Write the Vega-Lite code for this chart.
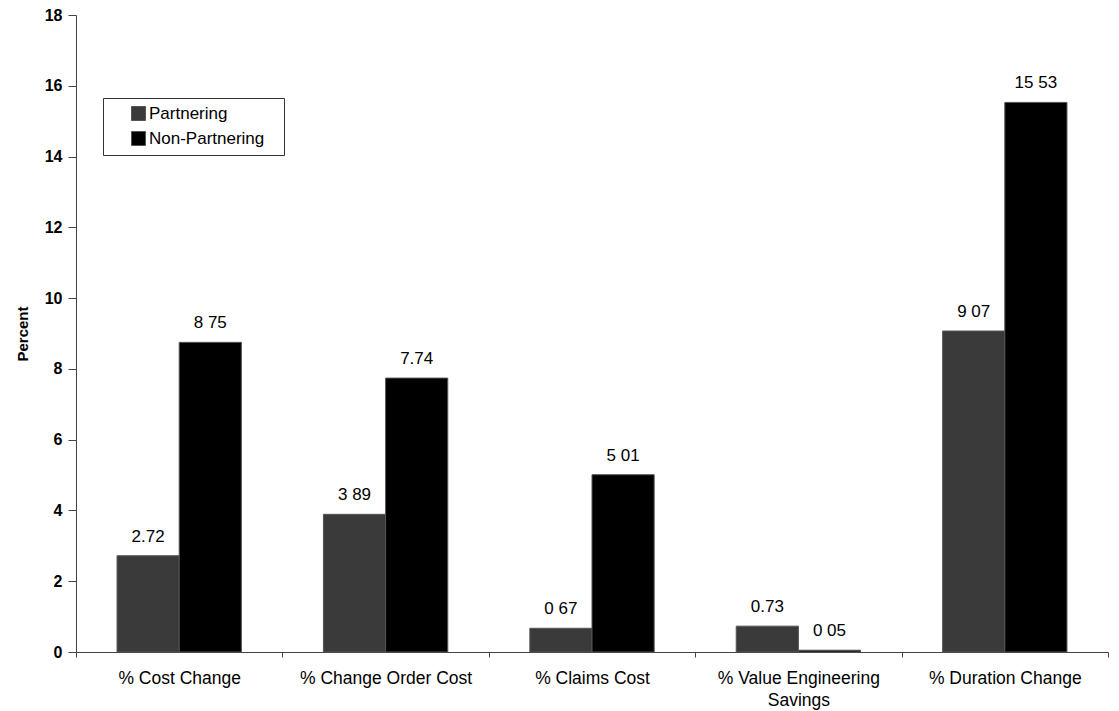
{
  "$schema": "https://vega.github.io/schema/vega-lite/v6.json",
  "width": 1032,
  "height": 637,
  "autosize": "none",
  "padding": {"left": 76, "top": 15, "right": 11, "bottom": 59},
  "background": "white",
  "config": {
    "font": "Liberation Sans",
    "view": {"stroke": null}
  },
  "data": {
    "values": [
      {"category": "% Cost Change", "group": "Partnering", "value": 2.72, "label": "2.72"},
      {"category": "% Cost Change", "group": "Non-Partnering", "value": 8.75, "label": "8 75"},
      {"category": "% Change Order Cost", "group": "Partnering", "value": 3.89, "label": "3 89"},
      {"category": "% Change Order Cost", "group": "Non-Partnering", "value": 7.74, "label": "7.74"},
      {"category": "% Claims Cost", "group": "Partnering", "value": 0.67, "label": "0 67"},
      {"category": "% Claims Cost", "group": "Non-Partnering", "value": 5.01, "label": "5 01"},
      {"category": "% Value Engineering Savings", "group": "Partnering", "value": 0.73, "label": "0.73"},
      {"category": "% Value Engineering Savings", "group": "Non-Partnering", "value": 0.05, "label": "0 05"},
      {"category": "% Duration Change", "group": "Partnering", "value": 9.07, "label": "9 07"},
      {"category": "% Duration Change", "group": "Non-Partnering", "value": 15.53, "label": "15 53"}
    ]
  },
  "encoding": {
    "x": {
      "field": "category",
      "type": "nominal",
      "sort": null,
      "scale": {"paddingInner": 0, "paddingOuter": 0},
      "axis": {
        "title": null,
        "labelAngle": 0,
        "labelFontSize": 17.5,
        "labelColor": "black",
        "labelPadding": 12,
        "labelExpr": "datum.value == '% Value Engineering Savings' ? ['% Value Engineering', 'Savings'] : datum.value",
        "labelLineHeight": 22,
        "tickBand": "extent",
        "tickSize": 5,
        "tickColor": "#444",
        "domainColor": "#444",
        "labelLimit": 300
      }
    },
    "xOffset": {
      "field": "group",
      "type": "nominal",
      "sort": ["Partnering", "Non-Partnering"],
      "scale": {"paddingInner": 0, "paddingOuter": 0.66}
    },
    "y": {
      "field": "value",
      "type": "quantitative",
      "scale": {"domain": [0, 18], "nice": false},
      "axis": {
        "title": "Percent",
        "titleFontSize": 15,
        "titleFontWeight": "bold",
        "titleColor": "black",
        "titlePadding": 14,
        "values": [0, 2, 4, 6, 8, 10, 12, 14, 16, 18],
        "labelFontSize": 16,
        "labelFontWeight": "bold",
        "labelColor": "black",
        "labelPadding": 6,
        "tickSize": 8,
        "tickColor": "#444",
        "domainColor": "#444",
        "grid": false
      }
    }
  },
  "layer": [
    {
      "mark": {"type": "bar", "stroke": "#555", "strokeWidth": 1},
      "encoding": {
        "color": {
          "field": "group",
          "type": "nominal",
          "sort": ["Partnering", "Non-Partnering"],
          "scale": {"domain": ["Partnering", "Non-Partnering"], "range": ["#3a3a3a", "#000000"]},
          "legend": {
            "title": null,
            "orient": "none",
            "legendX": 27,
            "legendY": 83,
            "symbolType": "square",
            "symbolSize": 196,
            "symbolOffset": 20,
            "symbolStrokeColor": "#555",
            "symbolStrokeWidth": 1,
            "labelFontSize": 17,
            "labelColor": "black",
            "labelOffset": 2,
            "labelExpr": "datum.label + '\u2800'",
            "rowPadding": 6,
            "strokeColor": "#333",
            "fillColor": "white",
            "padding": 7
          }
        }
      }
    },
    {
      "mark": {"type": "text", "baseline": "alphabetic", "dy": -14, "fontSize": 17, "color": "black"},
      "encoding": {
        "text": {"field": "label"}
      }
    }
  ]
}
